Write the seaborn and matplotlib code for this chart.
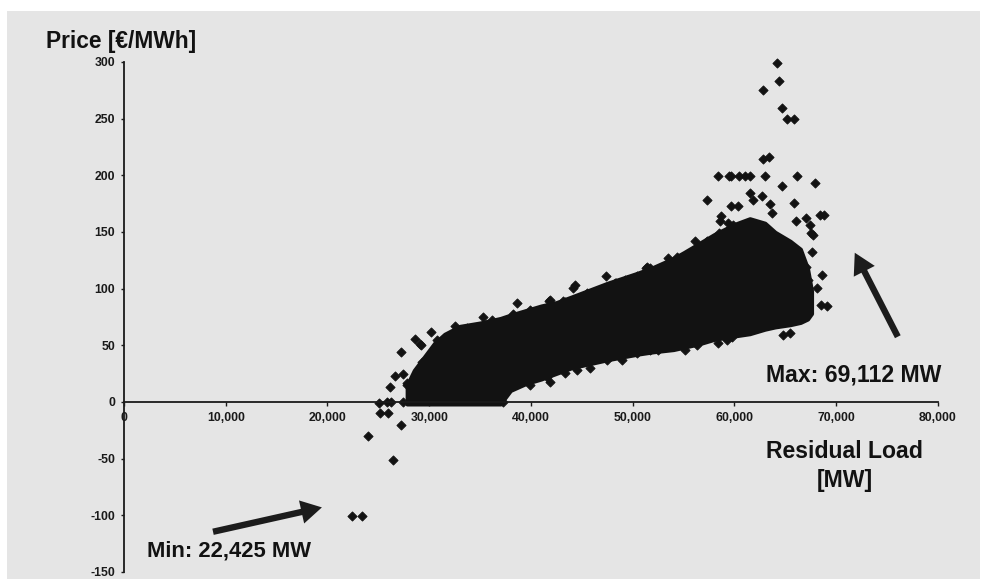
import matplotlib
matplotlib.use("Agg")
import matplotlib.pyplot as plt
from matplotlib.patches import Rectangle
import seaborn as sns

# Dense block of hourly observations: envelope (load in MW, price in EUR/MWh)
cloud_load = [27800, 28500, 29500, 30500, 31500, 33000, 35000, 37000, 38000, 39500,
              41000, 42500, 44000, 47500, 50500, 52000, 54000, 55000, 56500, 58000,
              60000, 61500, 63000, 64000, 65500, 66500, 67200, 67600]
cloud_upper = [15, 28, 40, 52, 60, 67, 70, 74, 77, 81,
               85, 88, 93, 105, 114, 119, 127, 132, 140, 148,
               157, 162, 158, 150, 142, 135, 118, 98]
cloud_lower = [-2, -2, -2, -2, -2, -2, -2, -2, 10, 16,
               20, 25, 30, 37, 42, 44, 46, 48, 51, 55,
               58, 60, 64, 66, 68, 70, 73, 78]

# Single hours outside or along the rim of the dense block
hour_load = [22425, 23410, 23940, 26460, 27220, 25150, 25940,
             25050, 25840, 26200, 27410, 26135, 27775, 26626, 27412, 27215,
             28590, 29180, 30163, 29280, 27800, 29080,
             35270, 38600, 38220, 41756, 43330, 44310, 44114, 47360, 49220,
             51385, 53450, 54330, 55900, 57080,
             37240, 36650, 37140, 38020, 39890, 41855, 41560, 45785, 48930,
             52470, 55120, 56300, 58360, 59740, 64750, 65430,
             57250, 58330, 59470, 59700, 60450, 61010, 61500, 63010, 66150,
             67890, 64620, 62780, 63370, 61500, 61830, 62750, 63530, 63670,
             65860, 59700, 60380, 67000, 68380, 68780, 66090, 67400, 58720,
             58560, 67560, 59340, 59830, 67700, 67600, 68580, 68090, 68480,
             69112, 67000, 67200, 66800, 56100, 57250, 58490,
             62800, 64150, 64350, 64650, 65150, 65830,
             36130, 38250, 39890, 41850, 43130, 45460, 46770, 48240, 49390,
             50700, 51350, 32520, 33670, 30720, 31340, 46930, 48400, 50370,
             51680, 53970, 54950, 57870,
             43330, 44480, 47430, 50370, 51680, 53320, 59220]
hour_price = [-101, -101, -30, -51, -20, -10, -10,
              -1, 0, 0, 0, 13.6, 15.3, 23.2, 25, 43.9,
              55.4, 50.6, 62, 35.6, 17, 51,
              75, 87, 78, 89.4, 88.5, 103.5, 100.9, 111, 108,
              119.4, 127, 128, 130, 132,
              0, 5, 8, 13.5, 15, 18, 22.3, 30.3, 37.3,
              46, 46, 50.5, 52.3, 57.6, 59.4, 61,
              178, 199.5, 199.5, 199.5, 199.5, 199.5, 199.5, 199.5, 199.5,
              193, 191, 214, 216.5, 184.4, 178.5, 182, 175, 167,
              175.6, 172.6, 172.6, 162, 164.7, 164.7, 159.4, 156.4, 163.8,
              159.4, 149, 158, 156, 147.6, 132.6, 112, 101, 86,
              85, 119.5, 108, 93, 141.7, 141.7, 149,
              275, 299, 283, 259, 250, 249.5,
              72.6, 77, 81.5, 90, 88.8, 96, 92, 105, 108,
              110.8, 118.5, 66.7, 65.3, 55, 50.6, 91.8, 105, 110.8,
              118, 121, 124, 133,
              25.6, 28.5, 37.3, 43.2, 46, 49, 55]

x_ticks = [0, 10000, 20000, 30000, 40000, 50000, 60000, 70000, 80000]
y_ticks = [-150, -100, -50, 0, 50, 100, 150, 200, 250, 300]

W, H = 987, 579
sns.set_theme(style="white")
plt.rcParams["font.family"] = ["Liberation Sans", "DejaVu Sans"]
plt.rcParams["axes.unicode_minus"] = False

ink = "#121212"
fig = plt.figure(figsize=(W / 100, H / 100), dpi=100)
fig.patch.set_facecolor("white")
fig.patches.append(Rectangle((7 / W, 0), 973 / W, 568 / H, transform=fig.transFigure,
                             facecolor="#e5e5e5", edgecolor="none", zorder=-10))

ax = fig.add_axes([124 / W, 7 / H, 814 / W, 510 / H])
ax.set_facecolor("none")

ax.fill_between(cloud_load, cloud_lower, cloud_upper, color=ink, linewidth=2.5,
                edgecolor=ink, joinstyle="round", zorder=2)
sns.scatterplot(x=hour_load, y=hour_price, marker="D", s=22, color=ink,
                edgecolor=ink, linewidth=0.6, ax=ax, zorder=3, clip_on=False, legend=False)

ax.set_xlim(0, 80000)
ax.set_ylim(-150, 300)
for side in ("top", "right"):
    ax.spines[side].set_visible(False)
ax.spines["left"].set_position(("data", 0))
ax.spines["bottom"].set_position(("data", 0))
for side in ("left", "bottom"):
    ax.spines[side].set_color("#1a1a1a")
    ax.spines[side].set_linewidth(1.3)
    ax.spines[side].set_zorder(4)

ax.set_xticks(x_ticks)
ax.set_xticklabels([f"{v:,}" for v in x_ticks], fontweight="bold")
ax.set_yticks(y_ticks)
ax.set_yticklabels([str(v) for v in y_ticks], fontweight="bold")
ax.tick_params(axis="x", direction="out", length=3, width=1, pad=4.5,
               labelsize=8.8, colors="#1a1a1a", bottom=True)
ax.tick_params(axis="y", direction="out", length=2.5, width=1, pad=4,
               labelsize=8.8, colors="#1a1a1a", left=True)
ax.set_xlabel("")
ax.set_ylabel("")


def fx(px):
    return px / W


def fy(py):
    return 1 - py / H


fig.text(fx(46), fy(47.7), "Price [€/MWh]", fontsize=16.4, fontweight="bold",
         color=ink, va="baseline", ha="left")
fig.text(fx(766), fy(381.7), "Max: 69,112 MW", fontsize=16.6, fontweight="bold",
         color=ink, va="baseline", ha="left")
fig.text(fx(844), fy(458.3), "Residual Load", fontsize=16.6, fontweight="bold",
         color=ink, va="baseline", ha="center")
fig.text(fx(845), fy(486.7), "[MW]", fontsize=16.6, fontweight="bold",
         color=ink, va="baseline", ha="center")
fig.text(fx(147), fy(556.7), "Min: 22,425 MW", fontsize=15.8, fontweight="bold",
         color=ink, va="baseline", ha="left")

arrow = dict(facecolor="#1c1c1c", edgecolor="none", width=4.6, headwidth=17,
             headlength=15, shrink=0)
ax.annotate("", xy=(19450, -93), xytext=(8750, -114.5), arrowprops=arrow,
            annotation_clip=False)
ax.annotate("", xy=(71820, 131.7), xytext=(76050, 57.6), arrowprops=arrow,
            annotation_clip=False)

fig.savefig("out.png", dpi=100)
